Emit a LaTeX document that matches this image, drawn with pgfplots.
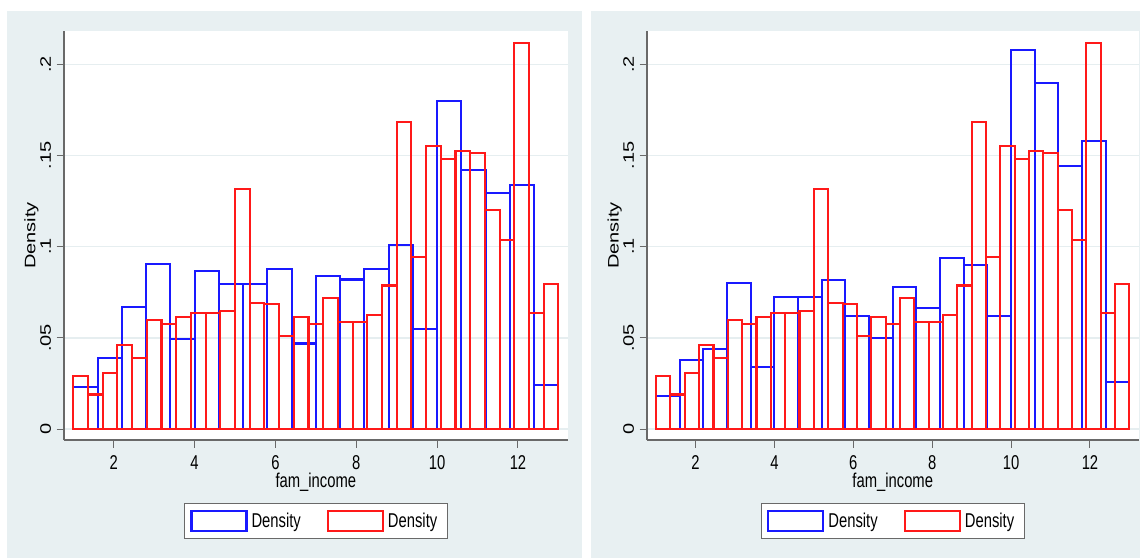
\documentclass[border=0pt]{standalone}
\usepackage{fontspec}
\setmainfont{Liberation Sans}
\usepackage{graphicx}
\usepackage{pgfplots}
\usepackage{pgfplotstable}
\pgfplotsset{compat=1.18}
\definecolor{bgpanel}{RGB}{232,240,242}
\definecolor{gridc}{RGB}{230,238,240}
\definecolor{axisc}{RGB}{105,105,105}
\definecolor{sblue}{RGB}{25,25,255}
\definecolor{sred}{RGB}{255,25,25}
\newcommand{\hs}[1]{\scalebox{0.74}[1]{#1}}
\newcommand{\vs}[1]{\scalebox{1}[0.76]{#1}}

\pgfplotstableread{
x y
1.0 0.0232
1.6 0.0389
2.2 0.0668
2.8 0.0906
3.4 0.0492
4.0 0.0865
4.6 0.0793
5.2 0.0793
5.8 0.0877
6.4 0.0469
7.0 0.0840
7.6 0.0820
8.2 0.0877
8.8 0.1008
9.4 0.0547
10.0 0.1797
10.6 0.1422
11.2 0.1293
11.8 0.1340
12.4 0.0240
13.0 0.0240
}\blueA

\pgfplotstableread{
x y
1.0 0.0180
1.6 0.0379
2.2 0.0439
2.8 0.0799
3.4 0.0342
4.0 0.0723
4.6 0.0723
5.2 0.0818
5.8 0.0621
6.4 0.0500
7.0 0.0781
7.6 0.0662
8.2 0.0939
8.8 0.0900
9.4 0.0621
10.0 0.2078
10.6 0.1898
11.2 0.1441
11.8 0.1578
12.4 0.0260
13.0 0.0260
}\blueB

\pgfplotstableread{
x y
1.000000 0.0293
1.363636 0.0189
1.727273 0.0307
2.090909 0.0459
2.454545 0.0389
2.818182 0.0600
3.181818 0.0576
3.545455 0.0613
3.909091 0.0635
4.272727 0.0635
4.636364 0.0648
5.000000 0.1316
5.363636 0.0693
5.727273 0.0684
6.090909 0.0508
6.454545 0.0613
6.818182 0.0576
7.181818 0.0717
7.545455 0.0586
7.909091 0.0586
8.272727 0.0623
8.636364 0.0787
9.000000 0.1682
9.363636 0.0941
9.727273 0.1553
10.090909 0.1480
10.454545 0.1527
10.818182 0.1514
11.181818 0.1199
11.545455 0.1035
11.909091 0.2115
12.272727 0.0635
12.636364 0.0797
13.000000 0.0797
}\redAll

\pgfplotsset{
  statastyle/.style={
    scale only axis,
    height=204.5pt,
    xmin=0.77, xmax=13.23,
    ymin=-0.00603, ymax=0.21826,
    axis x line*=bottom, axis y line*=left,
    axis line style={axisc, line width=0.6pt, -},
    tick style={axisc, line width=0.5pt},
    tick align=outside,
    major tick length=3.75pt,
    xtick={2,4,6,8,10,12},
    xticklabels={\hs{2},\hs{4},\hs{6},\hs{8},\hs{10},\hs{12}},
    ytick={0,0.05,0.1,0.15,0.2},
    yticklabels={\vs{0},\vs{.05},\vs{.1},\vs{.15},\vs{.2}},
    ymajorgrids,
    grid style={gridc, line width=0.75pt},
    xticklabel style={anchor=north, inner sep=0pt},
    yticklabel style={rotate=90, anchor=south, inner sep=0pt},
    xticklabel shift=3.9pt,
    yticklabel shift=2.6pt,
    xlabel={\hs{fam\_income}},
    xlabel style={at={(axis description cs:0.5,-0.1027)}, anchor=center, inner sep=0pt},
    ylabel={\vs{Density}},
    axis background/.style={fill=white},
    font=\fontsize{10}{12}\selectfont,
    legend columns=2,
    legend style={
      at={(axis description cs:0.5,-0.1548)}, anchor=north,
      draw=axisc, line width=0.5pt, fill=white,
      inner xsep=3pt, inner ysep=2.4pt,
      font=\fontsize{10}{12}\selectfont,
      /tikz/every even column/.append style={column sep=11pt},
      cells={anchor=west},
    },
  },
  bluebars/.style={ybar interval, draw=sblue, fill=none, line width=1.05pt,
    legend image code/.code={\draw[sblue, line width=1.05pt] (0pt,-5pt) rectangle (27.5pt,5pt);}},
  redbars/.style={ybar interval, draw=sred, fill=none, line width=1.05pt,
    legend image code/.code={\draw[sred, line width=1.05pt] (0pt,-5pt) rectangle (27.5pt,5pt);}},
}

\begin{document}
\begin{tikzpicture}
\useasboundingbox (0,0) rectangle (570pt,279pt);
\clip (0,0) rectangle (570pt,279pt);
\fill[white] (0,0) rectangle (570pt,279pt);
\fill[bgpanel] (3.5pt,0pt) rectangle (291.15pt,273.5pt);
\fill[bgpanel] (295.35pt,0pt) rectangle (570pt,273.5pt);

\begin{axis}[statastyle, width=251.85pt, at={(32pt,59pt)}, anchor=south west,
  ylabel style={at={(axis description cs:-0.0645,0.5)}, anchor=center, rotate=0, inner sep=0pt}]
\addplot[bluebars] table[x=x,y=y]{\blueA};
\addlegendentry{\hs{Density}}
\addplot[redbars] table[x=x,y=y]{\redAll};
\addlegendentry{\hs{Density}}
\end{axis}

\begin{axis}[statastyle, width=245.75pt, at={(323.5pt,59pt)}, anchor=south west,
  ylabel style={at={(axis description cs:-0.066,0.5)}, anchor=center, rotate=0, inner sep=0pt}]
\addplot[bluebars] table[x=x,y=y]{\blueB};
\addlegendentry{\hs{Density}}
\addplot[redbars] table[x=x,y=y]{\redAll};
\addlegendentry{\hs{Density}}
\end{axis}
\end{tikzpicture}
\end{document}
